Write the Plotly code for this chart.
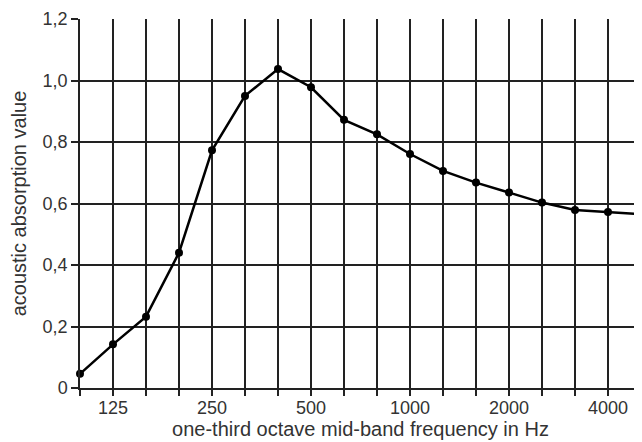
import plotly.graph_objects as go

# one-third octave bands (Hz)
bands = ["100", "125", "160", "200", "250", "315", "400", "500", "630",
         "800", "1000", "1250", "1600", "2000", "2500", "3150", "4000", "5000"]
absorption = [0.046, 0.142, 0.232, 0.44, 0.773, 0.95, 1.037, 0.978, 0.872,
              0.825, 0.761, 0.706, 0.668, 0.636, 0.603, 0.579, 0.572, 0.565]

x_labels = ["", "125", "", "", "250", "", "", "500", "", "", "1000", "",
            "", "2000", "", "", "4000", ""]
y_ticks = [0, 0.2, 0.4, 0.6, 0.8, 1.0, 1.2]
y_labels = ["0", "0,2", "0,4", "0,6", "0,8", "1,0", "1,2"]

fig = go.Figure()
fig.add_trace(go.Scatter(
    x=bands,
    y=absorption,
    mode="lines+markers",
    line=dict(color="black", width=2.5),
    marker=dict(color="black", size=8),
    cliponaxis=False,
    showlegend=False,
))

# page body has an 8px margin, so the figure is a bit smaller than the window
fig.update_layout(
    width=634,
    height=434,
    margin=dict(l=72, r=1, t=11, b=54),
    paper_bgcolor="white",
    plot_bgcolor="white",
    font=dict(family="Liberation Sans, Arial, sans-serif", size=18, color="#333333"),
)

fig.update_xaxes(
    type="category",
    range=[0, 17],
    tickmode="array",
    tickvals=bands,
    ticktext=x_labels,
    ticks="outside",
    ticklen=6,
    tickwidth=1.5,
    tickcolor="#222",
    ticklabelstandoff=-3,
    showgrid=True,
    gridcolor="#222",
    gridwidth=1.5,
    showline=True,
    linecolor="#222",
    linewidth=1.5,
    zeroline=False,
    automargin=False,
    title=dict(text="one-third octave mid-band frequency in Hz", font=dict(size=20), standoff=0),
)

fig.update_yaxes(
    range=[0, 1.2],
    tickmode="array",
    tickvals=y_ticks,
    ticktext=y_labels,
    ticks="outside",
    ticklen=7,
    tickwidth=1.5,
    tickcolor="#222",
    showgrid=True,
    gridcolor="#222",
    gridwidth=1.5,
    showline=True,
    linecolor="#222",
    linewidth=1.5,
    zeroline=False,
    automargin=False,
    title=dict(text="acoustic absorption value", font=dict(size=20), standoff=12),
)

fig.write_html("out.html")
